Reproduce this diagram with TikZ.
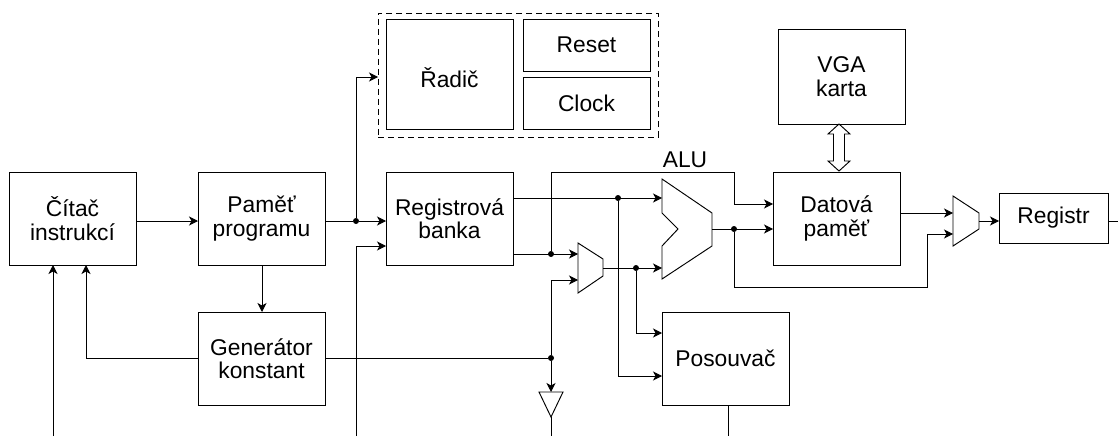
\documentclass[tikz,border=0pt]{standalone}
\usepackage{fontspec}
\setmainfont{Liberation Sans}
\usepackage{xcolor}
\usetikzlibrary{arrows.meta, positioning, calc}

\tikzset{
  block/.style={draw, line width=0.95pt, anchor=north west, inner sep=0pt, outer sep=0pt, align=center, minimum width=#1},
  block/.default=127pt,
  wire/.style={line width=0.95pt},
  dot/.style={circle, fill=black, inner sep=0pt, minimum size=6pt},
  >={Stealth[length=9pt, width=9pt, inset=2.5pt]}
}

\begin{document}
\begin{tikzpicture}[x=1pt, y=-1pt, font=\fontsize{22.8}{23.5}\selectfont]
      \useasboundingbox (0,0) rectangle (1118,436);

      \node[block, minimum height=93pt] (citac) at (9,172) {Čítač\\instrukcí};
      \node[block, minimum height=93pt] (pamet) at (198,172) {Paměť\\programu};
      \node[block, minimum height=93pt] (generator) at (198,312) {Generátor\\konstant};
      \node[block, minimum height=93pt] (banka) at (386,172) {Registrová\\banka};
      \node[block, minimum height=110pt, text height=26pt, text depth=0pt] (radic) at (386,19) {Řadič};
      \node[block, minimum height=52pt] (reset) at (523,19) {Reset};
      \node[block, minimum height=52pt] (clock) at (523,77) {Clock};
      \node[block=280pt, minimum height=124pt, dash pattern=on 6pt off 4pt] (skupina) at (378,13) {};
      \node[block, minimum height=95pt] (vga) at (778,29) {VGA\\karta};
      \node[block, minimum height=93pt] (datova) at (773,172) {Datová\\paměť};
      \node[block, minimum height=93pt] (posouvac) at (662,312) {Posouvač};
      \node[block=109pt, minimum height=50pt] (registr) at (999,193) {Registr};
      \node[inner sep=0pt] (alulabel) at (685,160) {ALU};

      \draw[wire] (662,179) -- (712,213) -- (712,246) -- (662,279) -- (662,246) -- (678,229) -- (662,213) -- cycle;
      \draw[wire] (578,243) -- (603,259) -- (603,276) -- (578,293) -- cycle;
      \draw[wire] (953,196) -- (979,213) -- (979,229) -- (953,246) -- cycle;
      \draw[wire] (539,392) -- (563,392) -- (551,417) -- cycle;

      \coordinate (muxAin) at (578,254);
      \coordinate (muxBin) at (578,280);
      \coordinate (muxAout) at (603,268);
      \coordinate (muxCin) at (953,213);
      \coordinate (muxDin) at (953,234);
      \coordinate (muxCout) at (979,221);
      \coordinate (aluAin) at (662,198);
      \coordinate (aluBin) at (662,268);
      \coordinate (aluout) at (712,229);
      \coordinate (budicin) at (551,392);
      \coordinate (budicout) at (551,417);

      \node[dot] (jpam) at (356,221) {};
      \node[dot] (jbanka) at (618,198) {};
      \node[dot] (jtop) at (551,254) {};
      \node[dot] (jkonst) at (551,358) {};
      \node[dot] (jmux) at (636,268) {};
      \node[dot] (jalu) at (734,229) {};

      \draw[wire, ->] (citac.east |- 0,221) -- (pamet.west |- 0,221);
      \draw[wire] (pamet.east |- jpam) -- (jpam);
      \draw[wire, ->] (jpam) -- (banka.west |- jpam);
      \draw[wire, ->] (jpam) |- (skupina.west |- 0,77);
      \draw[wire, ->] (356,436) |- (banka.west |- 0,246);
      \draw[wire, ->] (pamet.south -| 262,0) -- (generator.north -| 262,0);
      \draw[wire, ->] (generator.west |- 0,358) -| (86,0 |- citac.south);
      \draw[wire, ->] (53,436) -- (53,0 |- citac.south);

      \draw[wire, ->] (banka.east |- aluAin) -- (aluAin);
      \draw[wire, ->] (banka.east |- muxAin) -- (muxAin);
      \draw[wire, ->] (jbanka) |- (posouvac.west |- 0,376);
      \draw[wire] (jtop) |- (734,172) -- (734,204) coordinate (bend);
      \draw[wire, ->] (bend) -- (datova.west |- bend);
      \draw[wire] (generator.east |- jkonst) -- (jkonst);
      \draw[wire, ->] (jkonst) |- (muxBin);
      \draw[wire, ->] (jkonst) -- (budicin);
      \draw[wire] (budicout) -- (551,436);
      \draw[wire, ->] (muxAout) -- (aluBin);
      \draw[wire, ->] (jmux) |- (posouvac.west |- 0,333);
      \draw[wire] (posouvac.south -| 728,0) -- (728,436);

      \draw[wire, ->] (aluout) -- (datova.west |- aluout);
      \draw[wire] (jalu) |- (927,287) -- (927,234) coordinate (ret);
      \draw[wire, ->] (ret) -- (muxDin);
      \draw[wire, ->] (datova.east |- muxCin) -- (muxCin);
      \draw[wire, ->] (muxCout) -- (registr.west |- muxCout);
      \draw[wire] (registr.east |- muxCout) -- (1118,221);

      \draw[wire] (839,124) -- (850,134) -- (844.5,134) -- (844.5,161) -- (850,161) -- (839,171) -- (828,161) -- (833.5,161) -- (833.5,134) -- (828,134) -- cycle;
    \end{tikzpicture}
\end{document}
